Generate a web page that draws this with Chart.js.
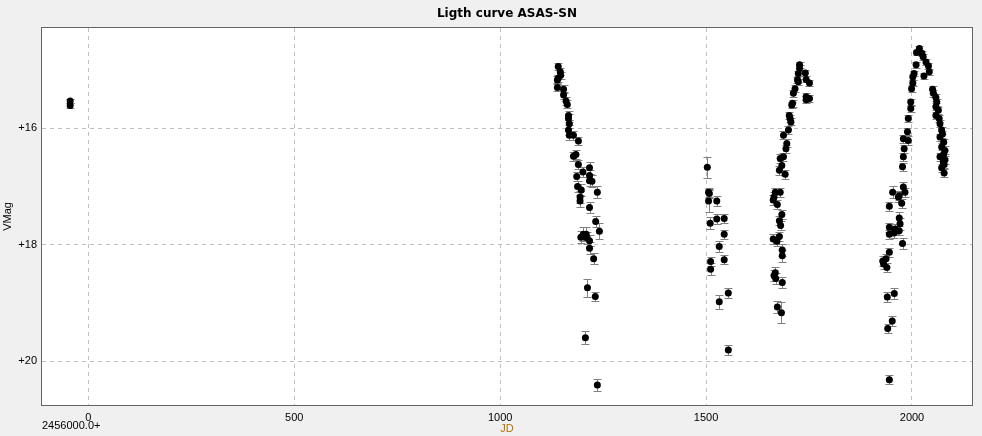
<!DOCTYPE html>
<html lang="en">
<head>
    <meta charset="UTF-8">
    <title>Ligth curve ASAS-SN</title>
    <script src="https://cdn.jsdelivr.net/npm/chart.js"></script>
    <style>
        body { margin: 0; background: #f0f0f0; }
    </style>
</head>
<body>
    <canvas id="lightCurve" width="982" height="436"></canvas>

    <script>
        // JD - 2456000, V magnitude, error (mag), one group per observing season
        const jdEarly = [-44, -44];
        const magEarly = [15.53, 15.61];
        const errEarly = [0.04, 0.04];

        const jdSeason1 = [1139, 1139, 1141, 1141, 1146, 1147, 1154, 1154, 1160, 1163, 1166, 1166, 1168, 1166, 1168, 1178,
            1190, 1184, 1178, 1190, 1217, 1201, 1186, 1217, 1217, 1223, 1188, 1197, 1194, 1194, 1236, 1217,
            1232, 1241, 1202, 1209, 1196, 1210, 1217, 1217, 1227, 1212, 1231, 1207, 1236];
        const magSeason1 = [15.17, 15.30, 14.94, 15.14, 15.03, 15.09, 15.33, 15.43, 15.53, 15.59, 15.78, 15.83, 15.92, 16.03, 16.12, 16.12,
            16.22, 16.45, 16.48, 16.62, 16.68, 16.75, 16.83, 16.81, 16.90, 16.91, 17.00, 17.06, 17.18, 17.25, 17.10, 17.36,
            17.60, 17.77, 17.82, 17.82, 17.87, 17.88, 17.93, 18.06, 18.24, 18.74, 18.89, 19.60, 20.41];
        const errSeason1 = [0.06, 0.06, 0.06, 0.06, 0.06, 0.06, 0.07, 0.06, 0.07, 0.07, 0.07, 0.07, 0.07, 0.08, 0.08, 0.08,
            0.07, 0.08, 0.08, 0.08, 0.10, 0.08, 0.08, 0.10, 0.10, 0.10, 0.10, 0.10, 0.10, 0.10, 0.10, 0.10,
            0.10, 0.14, 0.12, 0.12, 0.10, 0.10, 0.10, 0.10, 0.10, 0.15, 0.08, 0.11, 0.11];

        const jdSeason2 = [1503, 1506, 1508, 1506, 1526, 1510, 1526, 1544, 1544, 1532, 1544, 1511, 1511, 1532, 1554, 1554];
        const magSeason2 = [16.67, 17.10, 17.12, 17.25, 17.25, 17.63, 17.56, 17.55, 17.82, 18.03, 18.26, 18.29, 18.42, 18.98, 18.83, 19.81];
        const errSeason2 = [0.18, 0.08, 0.08, 0.19, 0.08, 0.10, 0.08, 0.08, 0.08, 0.10, 0.08, 0.08, 0.10, 0.12, 0.08, 0.08];

        const jdSeason3 = [1727, 1727, 1741, 1724, 1743, 1751, 1722, 1724, 1716, 1712, 1743, 1751, 1743, 1710, 1708, 1702,
            1704, 1706, 1700, 1688, 1696, 1694, 1688, 1680, 1684, 1678, 1692, 1668, 1680, 1665, 1663, 1673,
            1684, 1678, 1681, 1678, 1663, 1672, 1685, 1685, 1668, 1665, 1669, 1685, 1673, 1683];
        const magSeason3 = [14.91, 14.97, 15.05, 15.06, 15.16, 15.22, 15.17, 15.20, 15.32, 15.40, 15.46, 15.49, 15.51, 15.57, 15.60, 15.78,
            15.83, 15.89, 16.03, 16.12, 16.26, 16.35, 16.49, 16.52, 16.64, 16.72, 16.79, 17.10, 17.10, 17.18, 17.23, 17.31,
            17.48, 17.59, 17.67, 17.86, 17.90, 17.94, 18.09, 18.19, 18.48, 18.53, 18.58, 18.65, 19.07, 19.17];
        const errSeason3 = [0.05, 0.05, 0.05, 0.05, 0.05, 0.05, 0.05, 0.05, 0.06, 0.06, 0.06, 0.06, 0.06, 0.06, 0.06, 0.06,
            0.06, 0.06, 0.07, 0.07, 0.07, 0.07, 0.07, 0.07, 0.07, 0.08, 0.08, 0.08, 0.08, 0.08, 0.08, 0.08,
            0.08, 0.08, 0.08, 0.08, 0.08, 0.08, 0.10, 0.10, 0.10, 0.10, 0.10, 0.10, 0.10, 0.18];

        const jdSeason4 = [2018, 2011, 2024, 2027, 2034, 2010, 2040, 2042, 2005, 2002, 2029, 2002, 1999, 2050, 2052, 2058,
            2060, 1997, 2058, 2064, 1997, 2058, 2066, 2068, 1991, 1989, 2072, 2068, 1979, 1991, 2077, 2072,
            1981, 2077, 2068, 1979, 2080, 1977, 2078, 2078, 2074, 2080, 2076, 2072, 1953, 1979, 1983, 1969,
            1967, 1975, 1945, 1969, 1971, 1945, 1959, 1969, 1956, 1945, 1977, 1945, 1937, 1929, 1931, 1939,
            1957, 1940, 1952, 1941, 1945];
        const magSeason4 = [14.63, 14.70, 14.71, 14.77, 14.86, 14.91, 14.93, 15.03, 15.06, 15.12, 15.10, 15.22, 15.32, 15.33, 15.40, 15.47,
            15.55, 15.55, 15.63, 15.69, 15.66, 15.78, 15.83, 15.92, 15.83, 16.06, 16.03, 16.15, 16.18, 16.21, 16.24, 16.32,
            16.35, 16.44, 16.49, 16.49, 16.54, 16.66, 16.62, 16.77, 16.10, 16.38, 16.58, 16.68, 17.10, 17.01, 17.10, 17.16,
            17.18, 17.29, 17.34, 17.54, 17.64, 17.70, 17.73, 17.76, 17.80, 17.82, 17.98, 18.13, 18.24, 18.28, 18.33, 18.39,
            18.84, 18.90, 19.31, 19.44, 20.32];
        const errSeason4 = [0.04, 0.04, 0.04, 0.05, 0.05, 0.05, 0.05, 0.05, 0.05, 0.05, 0.05, 0.05, 0.06, 0.06, 0.06, 0.06,
            0.06, 0.06, 0.06, 0.06, 0.06, 0.06, 0.06, 0.06, 0.06, 0.06, 0.06, 0.06, 0.07, 0.07, 0.06, 0.06,
            0.07, 0.07, 0.07, 0.07, 0.07, 0.07, 0.07, 0.07, 0.06, 0.07, 0.07, 0.07, 0.10, 0.08, 0.08, 0.08,
            0.08, 0.08, 0.08, 0.10, 0.10, 0.08, 0.08, 0.08, 0.08, 0.08, 0.10, 0.08, 0.08, 0.08, 0.08, 0.08,
            0.10, 0.08, 0.08, 0.08, 0.08];

        const xTicks = [0, 500, 1000, 1500, 2000];
        const yTicks = [16, 18, 20];
        const jdOffsetLabel = '2456000.0+';

        const seasons = [
            [jdEarly, magEarly, errEarly],
            [jdSeason1, magSeason1, errSeason1],
            [jdSeason2, magSeason2, errSeason2],
            [jdSeason3, magSeason3, errSeason3],
            [jdSeason4, magSeason4, errSeason4]
        ];

        const datasets = seasons.map(([jd, mag, err]) => ({
            data: jd.map((d, i) => ({ x: d, y: mag[i], e: err[i] })),
            pointRadius: 3.5,
            pointHoverRadius: 3.5,
            pointBackgroundColor: '#000000',
            pointBorderWidth: 0,
            showLine: false
        }));

        // fond gris + zone blanche + cadre
        const frame = {
            id: 'frame',
            beforeDraw(chart) {
                const { ctx, chartArea: a } = chart;
                ctx.save();
                ctx.fillStyle = '#f0f0f0';
                ctx.fillRect(0, 0, chart.width, chart.height);
                ctx.fillStyle = '#ffffff';
                ctx.fillRect(a.left, a.top, a.right - a.left, a.bottom - a.top);
                ctx.restore();
            },
            afterDraw(chart) {
                const { ctx, chartArea: a } = chart;
                ctx.save();
                ctx.strokeStyle = '#646464';
                ctx.lineWidth = 1;
                ctx.strokeRect(a.left - 0.5, a.top - 0.5, a.right - a.left + 1, a.bottom - a.top + 1);
                ctx.fillStyle = '#000000';
                ctx.font = '11px "Liberation Sans", Arial, sans-serif';
                ctx.textAlign = 'left';
                ctx.textBaseline = 'alphabetic';
                ctx.fillText(jdOffsetLabel, a.left, 429);
                ctx.restore();
            }
        };

        // barres d'erreur
        const errorBars = {
            id: 'errorBars',
            beforeDatasetsDraw(chart) {
                const { ctx, chartArea: a, scales: { x, y } } = chart;
                ctx.save();
                ctx.beginPath();
                ctx.rect(a.left, a.top, a.right - a.left, a.bottom - a.top);
                ctx.clip();
                ctx.strokeStyle = '#808080';
                ctx.lineWidth = 1;
                chart.data.datasets.forEach(ds => {
                    ds.data.forEach(p => {
                        const px = Math.round(x.getPixelForValue(p.x)) + 0.5;
                        const y1 = Math.round(y.getPixelForValue(p.y - p.e)) + 0.5;
                        const y2 = Math.round(y.getPixelForValue(p.y + p.e)) + 0.5;
                        ctx.beginPath();
                        ctx.moveTo(px, y1);
                        ctx.lineTo(px, y2);
                        ctx.moveTo(px - 4, y1);
                        ctx.lineTo(px + 4, y1);
                        ctx.moveTo(px - 4, y2);
                        ctx.lineTo(px + 4, y2);
                        ctx.stroke();
                    });
                });
                ctx.restore();
            }
        };

        const tickFont = { family: '"Liberation Sans", Arial, sans-serif', size: 11 };

        new Chart(document.getElementById('lightCurve').getContext('2d'), {
            type: 'scatter',
            data: { datasets: datasets },
            options: {
                responsive: false,
                animation: false,
                layout: { padding: { top: 0, right: 10, bottom: 0, left: 0 } },
                plugins: {
                    legend: { display: false },
                    tooltip: { enabled: false },
                    title: {
                        display: true,
                        text: 'Ligth curve ASAS-SN',
                        fullSize: false,
                        color: '#000000',
                        font: { family: '"DejaVu Sans", sans-serif', size: 12, weight: 'bold' },
                        padding: { top: 7, bottom: 6.6 }
                    }
                },
                scales: {
                    x: {
                        type: 'linear',
                        min: -112.4,
                        max: 2145.7,
                        afterFit: s => { s.height = 31; },
                        afterBuildTicks: s => { s.ticks = xTicks.map(v => ({ value: v })); },
                        ticks: { color: '#000000', font: tickFont, padding: 6, callback: v => v },
                        grid: { color: '#c0c0c0', drawTicks: false },
                        border: { display: false, dash: [4, 4] },
                        title: {
                            display: true,
                            text: 'JD',
                            color: '#b86e00',
                            font: tickFont,
                            padding: { top: 0, bottom: 0 }
                        }
                    },
                    y: {
                        type: 'linear',
                        reverse: true,
                        min: 14.277,
                        max: 20.754,
                        afterFit: s => { s.width = 42; },
                        afterBuildTicks: s => { s.ticks = yTicks.map(v => ({ value: v })); },
                        ticks: { color: '#000000', font: tickFont, padding: 5, callback: v => '+' + v },
                        grid: { color: '#c0c0c0', drawTicks: false },
                        border: { display: false, dash: [4, 4] },
                        title: {
                            display: true,
                            text: 'VMag',
                            color: '#000000',
                            font: tickFont,
                            padding: { top: 1.5, bottom: 0 }
                        }
                    }
                }
            },
            plugins: [frame, errorBars]
        });
    </script>
</body>
</html>
